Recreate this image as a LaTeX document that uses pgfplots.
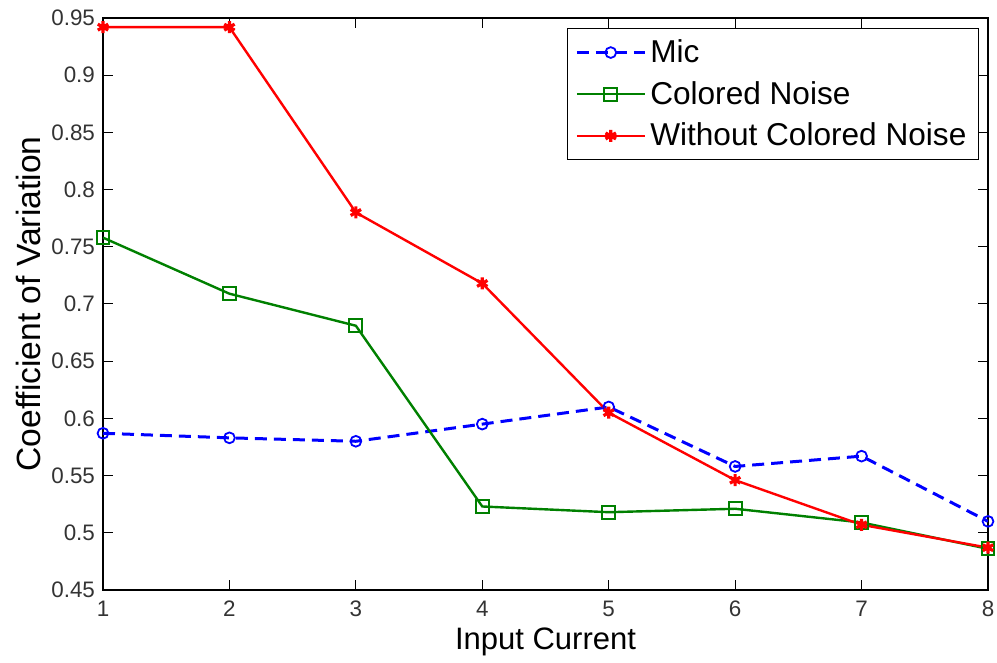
\documentclass[border=0pt]{standalone}
\usepackage{pgfplots}
\pgfplotsset{compat=1.18}
\usepackage{fontspec}
\setmainfont{Liberation Sans}
\definecolor{mblue}{rgb}{0,0,1}
\definecolor{mgreen}{rgb}{0,0.5,0}
\definecolor{mred}{rgb}{1,0,0}
\begin{document}
\begin{tikzpicture}
\useasboundingbox (-51.5pt,-36.5pt) rectangle (447pt,295pt);
\begin{axis}[
  at={(0pt,0pt)}, anchor=south west,
  scale only axis, width=442.5pt, height=286pt,
  xmin=1, xmax=8, ymin=0.45, ymax=0.95,
  xtick={1,2,3,4,5,6,7,8},
  ytick={0.45,0.5,0.55,0.6,0.65,0.7,0.75,0.8,0.85,0.9,0.95},
  yticklabels={0.45,0.5,0.55,0.6,0.65,0.7,0.75,0.8,0.85,0.9,0.95},
  /pgf/number format/assume math mode=true,
  tick align=inside, major tick length=5pt,
  tick style={black, line width=0.5pt},
  axis line style={black, line width=0.6pt},
  ticklabel style={font=\fontsize{11.2pt}{13pt}\selectfont, text=black!80},
  xticklabel style={yshift=-2pt},
  yticklabel style={xshift=-0.5pt},
  xlabel={Input Current},
  ylabel={Coefficient of Variation},
  xlabel style={font=\fontsize{15.5pt}{18pt}\selectfont},
  ylabel style={font=\fontsize{16.8pt}{19pt}\selectfont},
  every axis x label/.append style={at={(axis description cs:0.5,-0.09)}, anchor=center},
  every axis y label/.append style={at={(axis description cs:-0.0845,0.5)}, anchor=center, rotate=0},
  legend style={at={([xshift=-4.5pt,yshift=-5pt]rel axis cs:1,1)}, anchor=north east,
    font=\fontsize{15.8pt}{18pt}\selectfont, draw=black, line width=0.6pt,
    row sep=3.9pt, inner xsep=4pt, inner ysep=3.5pt,
    /tikz/every even column/.append style={column sep=3pt}},
  legend cell align=left,
  legend image code/.code={\draw[mark repeat=2,mark phase=2] plot coordinates {(0pt,0pt) (17pt,0pt) (34pt,0pt)};},
]
\addplot[color=mblue, line width=1.5pt, dash pattern=on 6pt off 3.5pt, mark=o, mark size=2.7pt, mark options={solid, line width=0.9pt}]
  coordinates {(1,0.587) (2,0.583) (3,0.580) (4,0.595) (5,0.610) (6,0.558) (7,0.567) (8,0.510)};
\addlegendentry{Mic}
\addplot[color=mgreen, line width=1.2pt, mark=square, mark size=3.2pt, mark options={solid, line width=1pt}]
  coordinates {(1,0.758) (2,0.709) (3,0.681) (4,0.523) (5,0.518) (6,0.521) (7,0.509) (8,0.486)};
\addlegendentry{Colored Noise}
\addplot[color=mred, line width=1.2pt, mark=asterisk, mark size=3pt, mark options={solid, line width=1.6pt}]
  coordinates {(1,0.942) (2,0.942) (3,0.780) (4,0.718) (5,0.605) (6,0.546) (7,0.507) (8,0.487)};
\addlegendentry{Without Colored Noise}
\end{axis}
\end{tikzpicture}
\end{document}
